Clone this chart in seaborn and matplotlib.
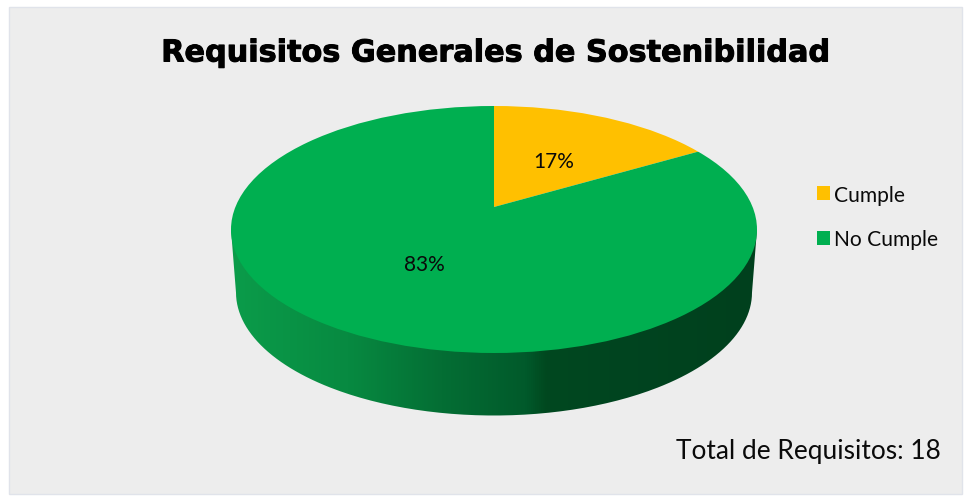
import numpy as np
import matplotlib
matplotlib.use("Agg")
import matplotlib.pyplot as plt
import matplotlib.patheffects as pe
from matplotlib.colors import LinearSegmentedColormap
from matplotlib.patches import Ellipse, PathPatch, Rectangle
from matplotlib.path import Path
import seaborn as sns

# Compliance figures for the general sustainability requirements
categories = ["Cumple", "No Cumple"]
requirements = [3, 15]
percent_labels = ["17%", "83%"]
title = "Requisitos Generales de Sostenibilidad"
total_note = "Total de Requisitos: 18"

sns.set_theme(style="white")
plt.rcParams["font.family"] = ["Lato", "DejaVu Sans"]

W, H = 968, 502
palette = sns.color_palette(["#FFC000", "#00AF50"])
fig = plt.figure(figsize=(W / 100, H / 100), dpi=100, facecolor="white")

# Panel behind everything, in pixel units
fig.add_artist(Rectangle((9 / W, 1 - 495 / H), 953 / W, 487 / H, transform=fig.transFigure,
                         facecolor="#EDEDED", edgecolor="#E0E3EA", linewidth=1.0, zorder=-5))

# Axes spanning the disc: one data unit is the top ellipse's radius
top, bottom, left, right = 107, 417, 231, 757
ry_px = 123.5
depth = (bottom - top) / ry_px - 2
ax = fig.add_axes([left / W, 1 - bottom / H, (right - left) / W, (bottom - top) / H])

# Side wall of the disc with its horizontal shading
wall_cmap = LinearSegmentedColormap.from_list(
    "wall",
    [(0.00, "#0B9C4A"), (0.22, "#078A41"), (0.40, "#046E34"), (0.56, "#015A2B"),
     (0.60, "#00481F"), (0.72, "#004520"), (1.00, "#00401D")],
)
wall = ax.imshow(np.linspace(0, 1, 512)[None, :], cmap=wall_cmap, aspect="auto",
                 extent=(-1, 1, -1 - depth, 0), zorder=1)
theta = np.linspace(np.pi, 2 * np.pi, 200)
shrink = 0.981
wall_x = np.r_[-1, shrink * np.cos(theta), 1]
wall_y = np.r_[0, -depth + 0.996 * np.sin(theta), 0]
wall_clip = PathPatch(Path(np.c_[wall_x, wall_y]), transform=ax.transData)
wall.set_clip_path(wall_clip)

# Top face: the wedges radiate from an off-centre apex and stop at the rim
apex_y = (229.5 - 207) / ry_px
wedges, _ = ax.pie(requirements, colors=palette, startangle=90, counterclock=False,
                   center=(0, apex_y), radius=2.4, wedgeprops={"linewidth": 0, "zorder": 2})
ax.set_aspect("auto")
ax.set_xlim(-1, 1)
ax.set_ylim(-1 - depth, 1)
ax.axis("off")
rim = Ellipse((0, 0), 2, 2, transform=ax.transData)
for wedge in wedges:
    wedge.set_clip_on(True)
    wedge.set_clip_path(rim)

# Percentage labels on the wedges
label_spots = [(554, 162), (424, 265)]
for text, (px, py) in zip(percent_labels, label_spots):
    fig.text(px / W, 1 - py / H, text, ha="center", va="center", fontsize=15, color="#0A0A0A")

fig.text(494.5 / W, 1 - 54 / H, title, ha="center", va="center", fontsize=21.8,
         fontweight="bold", family="DejaVu Sans", color="black",
         path_effects=[pe.withStroke(linewidth=0.7, foreground="black")])
fig.text(941 / W, 1 - 452 / H, total_note, ha="right", va="center", fontsize=18.9, color="#0A0A0A")

fig.legend(wedges, categories, loc="center left", bbox_to_anchor=(817 / W, 1 - 218 / H),
           frameon=False, fontsize=15.1, handlelength=0.63, handleheight=0.63,
           handletextpad=0.2, labelspacing=1.18, labelcolor="#0A0A0A", borderpad=0, borderaxespad=0)

fig.savefig("out.png", dpi=100, facecolor="white")
